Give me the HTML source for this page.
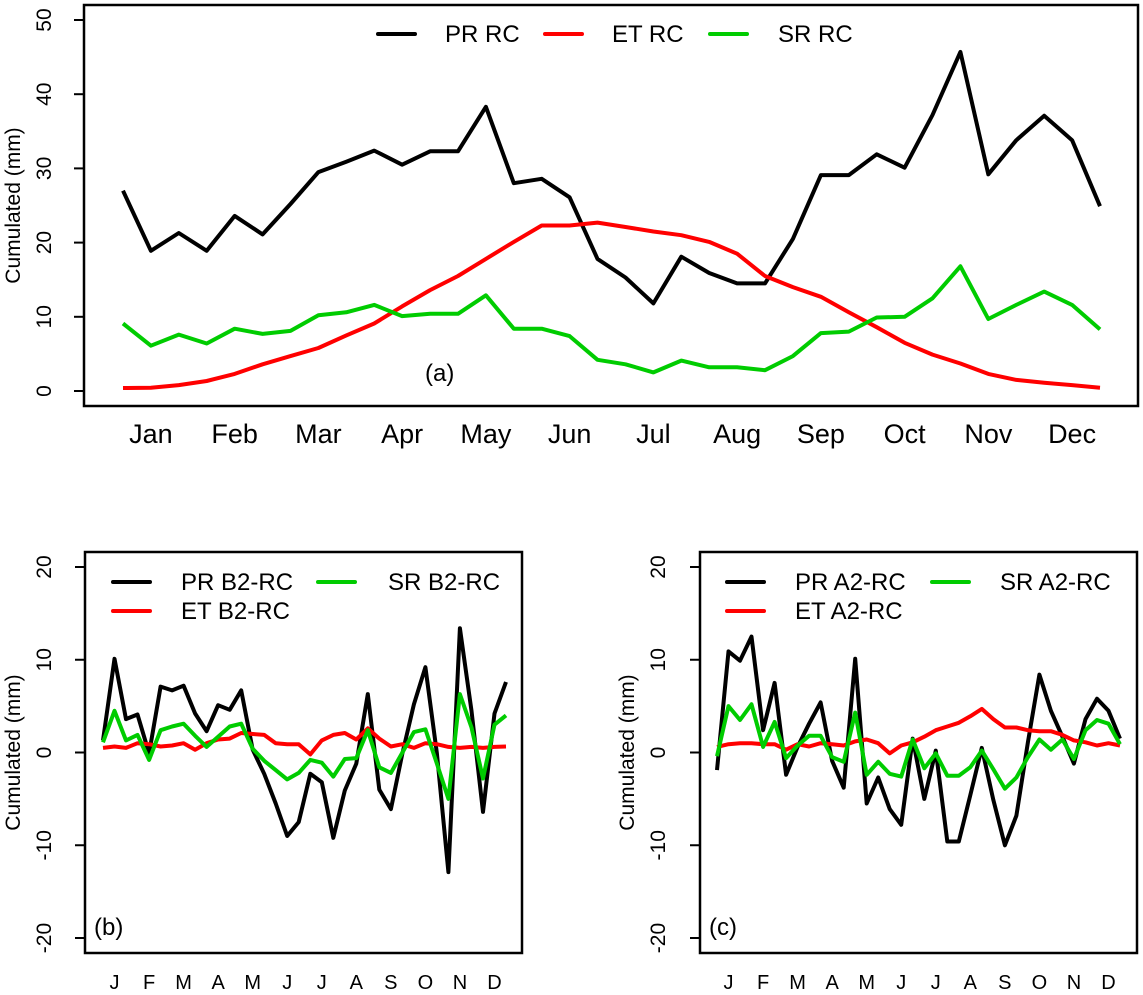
<!DOCTYPE html>
<html><head><meta charset="utf-8"><style>
html,body{margin:0;padding:0;background:#fff;}
svg{display:block;font-family:"Liberation Sans",Arial,sans-serif;}
</style></head><body>
<svg id="chart" width="1143" height="995" xmlns="http://www.w3.org/2000/svg"></svg>
<script>
const monthsLong = ["Jan","Feb","Mar","Apr","May","Jun","Jul","Aug","Sep","Oct","Nov","Dec"];
const monthsShort = ["J","F","M","A","M","J","J","A","S","O","N","D"];
const ticksTop = [0,10,20,30,40,50];
const ticksBottom = [-20,-10,0,10,20];

const prRC = [27.0,18.9,21.3,18.9,23.6,21.1,25.2,29.5,30.9,32.4,30.5,32.3,32.3,38.3,28.0,28.6,26.1,17.8,15.3,11.8,18.1,15.9,14.5,14.5,20.5,29.1,29.1,31.9,30.1,37.2,45.7,29.2,33.8,37.1,33.8,24.9];
const etRC = [0.4,0.45,0.8,1.35,2.3,3.6,4.7,5.8,7.5,9.1,11.4,13.6,15.5,17.8,20.1,22.3,22.3,22.7,22.1,21.5,21.0,20.1,18.5,15.5,14.0,12.7,10.6,8.6,6.5,4.9,3.7,2.3,1.5,1.1,0.8,0.45];
const srRC = [9.1,6.1,7.6,6.4,8.4,7.7,8.1,10.2,10.6,11.6,10.1,10.4,10.4,12.9,8.4,8.4,7.4,4.2,3.6,2.5,4.1,3.2,3.2,2.8,4.7,7.8,8.0,9.9,10.0,12.5,16.8,9.7,11.6,13.4,11.6,8.3];

const prB2 = [1.3,10.1,3.6,4.1,-0.1,7.1,6.7,7.2,4.2,2.3,5.1,4.6,6.7,0.3,-2.3,-5.5,-9.0,-7.5,-2.3,-3.2,-9.2,-4.1,-1.2,6.3,-4.0,-6.1,-0.1,5.2,9.2,-0.1,-12.9,13.4,4.5,-6.4,4.2,7.6];
const etB2 = [0.5,0.65,0.5,1.0,0.9,0.65,0.75,1.0,0.3,1.0,1.4,1.5,2.1,2.0,1.9,1.0,0.9,0.9,-0.2,1.3,1.9,2.1,1.4,2.6,1.5,0.65,0.9,0.5,1.0,0.9,0.6,0.5,0.6,0.5,0.6,0.65];
const srB2 = [1.1,4.5,1.3,1.9,-0.8,2.4,2.8,3.1,1.8,0.6,1.7,2.8,3.1,0.4,-0.9,-1.9,-2.9,-2.2,-0.8,-1.1,-2.6,-0.7,-0.6,2.4,-1.6,-2.2,0.0,2.2,2.5,-1.2,-5.0,6.3,2.7,-2.8,3.0,4.0];

const prA2 = [-1.9,10.9,9.9,12.5,2.4,7.5,-2.4,0.6,3.1,5.4,-0.9,-3.8,10.1,-5.5,-2.7,-6.1,-7.8,1.5,-5.0,0.2,-9.6,-9.6,-4.6,0.5,-5.1,-10.0,-6.8,1.1,8.4,4.5,1.7,-1.2,3.6,5.8,4.5,1.5];
const etA2 = [0.6,0.9,1.0,1.0,0.9,0.9,0.3,0.9,0.65,1.0,0.9,0.75,1.2,1.4,1.0,-0.1,0.75,1.1,1.7,2.4,2.8,3.2,3.9,4.7,3.6,2.7,2.7,2.4,2.3,2.3,1.9,1.3,1.1,0.75,1.0,0.75];
const srA2 = [-0.4,5.0,3.5,5.2,0.6,3.3,-0.6,0.75,1.8,1.8,-0.5,-1.0,4.3,-2.4,-1.0,-2.3,-2.6,1.4,-1.7,-0.1,-2.5,-2.5,-1.6,0.2,-1.8,-3.9,-2.7,-0.5,1.4,0.3,1.4,-0.7,2.4,3.5,3.1,0.9];

const NS = "http://www.w3.org/2000/svg";
const svg = document.getElementById("chart");
function mk(tag, attrs, parent){const e=document.createElementNS(NS,tag);for(const k in attrs)e.setAttribute(k,attrs[k]);(parent||svg).appendChild(e);return e;}

function panel(cfg){
  const g = mk("g",{});
  
  
  const xs = i => cfg.x0 + (cfg.x1 - cfg.x0) * i / 35;
  const ys = v => cfg.yZero + (cfg.yTop - cfg.yZero) * (v - cfg.vZero) / (cfg.vTop - cfg.vZero);
  const box = mk("rect",{x:cfg.bx0,y:cfg.by0,width:cfg.bx1-cfg.bx0,height:cfg.by1-cfg.by0,fill:"none",stroke:"#000","stroke-width":2.5},g);
  
  
  cfg.ticks.forEach(t=>{
    const y = ys(t);
    const tk = mk("line",{x1:cfg.bx0-10,x2:cfg.bx0,y1:y,y2:y,stroke:"#000","stroke-width":2},g);
    
    
    const tx = mk("text",{x:cfg.tickLabelX,y:y,"font-size":cfg.tickFont,"text-anchor":"middle",transform:`rotate(-90 ${cfg.tickLabelX} ${y})`,fill:"#000"},g);
    tx.textContent = t;
    
    
  });
  const yl = mk("text",{x:cfg.ylabX,y:(cfg.by0+cfg.by1)/2,"font-size":21,"text-anchor":"middle",transform:`rotate(-90 ${cfg.ylabX} ${(cfg.by0+cfg.by1)/2})`},g);
  yl.textContent = "Cumulated (mm)";
  
  
  cfg.months.forEach((m,k)=>{
    const t = mk("text",{x:xs(3*k+1),y:cfg.monthY,"font-size":cfg.monthFont,"text-anchor":"middle"},g);
    t.textContent = m;
    
    
  });
  cfg.series.forEach(s=>{
    const p = mk("polyline",{points:s.data.map((v,i)=>xs(i).toFixed(1)+","+ys(v).toFixed(1)).join(" "),fill:"none",stroke:s.color,"stroke-width":4,"stroke-linejoin":"round"},g);
    
    
  });
  cfg.legend.forEach(l=>{
    const ln = mk("line",{x1:l.lx,x2:l.lx+37,y1:l.y,y2:l.y,stroke:l.color,"stroke-width":4,"stroke-linecap":"round"},g);
    
    
    const t = mk("text",{x:l.tx,y:l.y+8,"font-size":24},g);
    t.textContent = l.label;
    
    
  });
  const pl = mk("text",{x:cfg.plab[0],y:cfg.plab[1],"font-size":24},g);
  pl.textContent = cfg.plab[2];
  
  
}

panel({name:"panel-a",x0:123,x1:1100,bx0:84,bx1:1138,by0:5,by1:406,yZero:391,yTop:20,vZero:0,vTop:50,
  ticks:ticksTop,tickLabelX:51,tickFont:21,ylabX:20,months:monthsLong,monthY:443,monthFont:27,
  series:[{key:"line-pr-rc",data:prRC,color:"#000"},{key:"line-et-rc",data:etRC,color:"#ff0000"},{key:"line-sr-rc",data:srRC,color:"#00cc00"}],
  legend:[{lx:378,tx:445,y:34,color:"#000",label:"PR RC"},{lx:545,tx:612,y:34,color:"#ff0000",label:"ET RC"},{lx:710,tx:778,y:34,color:"#00cc00",label:"SR RC"}],
  plab:[425,381,"(a)"]});

panel({name:"panel-b",x0:103,x1:506,bx0:85,bx1:522,by0:552,by1:953,yZero:752.5,yTop:567,vZero:0,vTop:20,
  ticks:ticksBottom,tickLabelX:51,tickFont:21,ylabX:20,months:monthsShort,monthY:989,monthFont:20,
  series:[{key:"line-pr-b2",data:prB2,color:"#000"},{key:"line-et-b2",data:etB2,color:"#ff0000"},{key:"line-sr-b2",data:srB2,color:"#00cc00"}],
  legend:[{lx:113,tx:181,y:582,color:"#000",label:"PR B2-RC"},{lx:318,tx:388,y:582,color:"#00cc00",label:"SR B2-RC"},{lx:113,tx:181,y:611,color:"#ff0000",label:"ET B2-RC"}],
  plab:[94,935,"(b)"]});

panel({name:"panel-c",x0:717,x1:1120,bx0:700,bx1:1137,by0:552,by1:953,yZero:752.5,yTop:567,vZero:0,vTop:20,
  ticks:ticksBottom,tickLabelX:665,tickFont:21,ylabX:634,months:monthsShort,monthY:989,monthFont:20,
  series:[{key:"line-pr-a2",data:prA2,color:"#000"},{key:"line-et-a2",data:etA2,color:"#ff0000"},{key:"line-sr-a2",data:srA2,color:"#00cc00"}],
  legend:[{lx:727,tx:795,y:582,color:"#000",label:"PR A2-RC"},{lx:932,tx:1000,y:582,color:"#00cc00",label:"SR A2-RC"},{lx:727,tx:795,y:611,color:"#ff0000",label:"ET A2-RC"}],
  plab:[709,935,"(c)"]});
</script>
</body></html>
